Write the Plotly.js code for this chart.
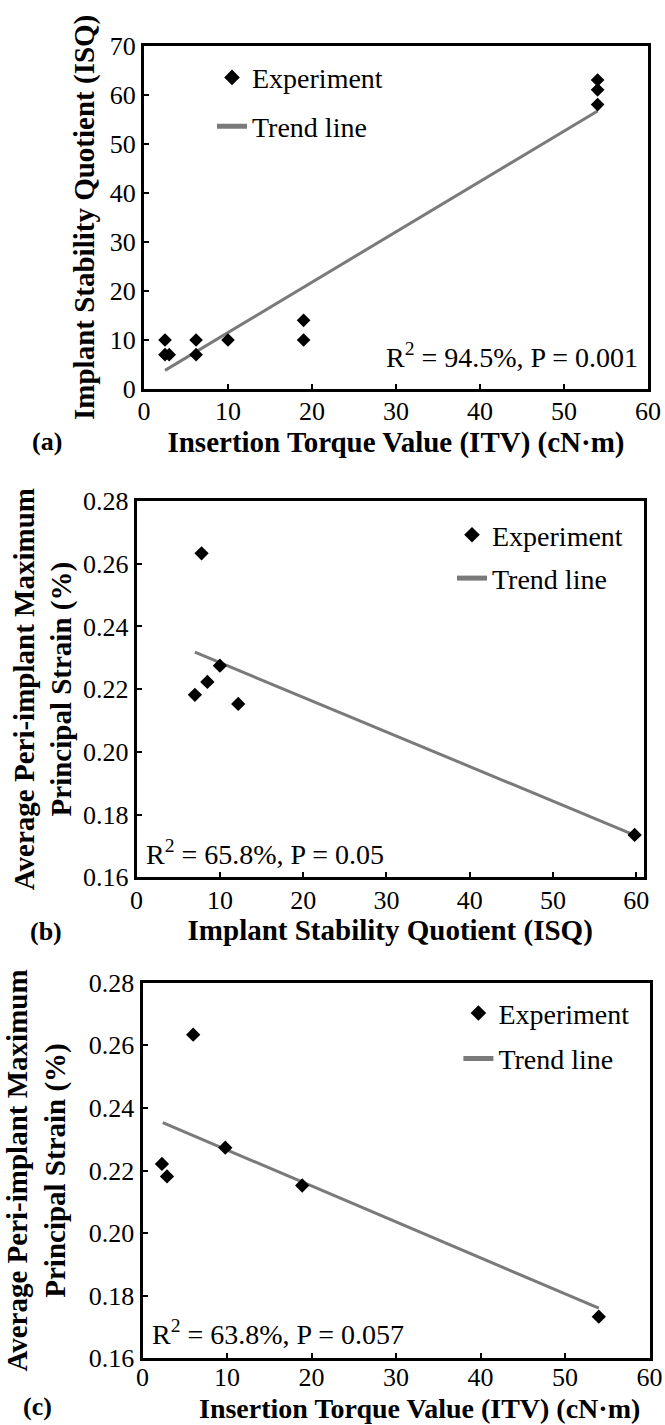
<!DOCTYPE html>
<html>
<head>
<meta charset="utf-8">
<script src="https://cdn.plot.ly/plotly-3.0.1.min.js"></script>
<style>
html,body{margin:0;padding:0;background:#ffffff;}
#chart{width:665px;height:1425px;}
</style>
</head>
<body>
<div id="chart"></div>
<script>
// ---------- data ----------
// Panel (a): ISQ vs ITV
const itvA   = [2.5, 2.5, 3.0, 6.2, 6.2, 10.0, 19.0, 19.0, 54.0, 54.0, 54.0];
const isqA   = [10, 7, 7, 10, 7, 10, 14, 10, 63, 61, 58];
const trendAx = [2.5, 54.0];
const trendAy = [3.8, 56.7];
const statsA = 'R<sup>2</sup> = 94.5%, P = 0.001';

// Panel (b): strain vs ISQ
const isqB    = [7.0, 7.8, 8.5, 10.0, 12.2, 59.8];
const strainB = [0.2182, 0.2633, 0.2223, 0.2275, 0.2153, 0.1735];
const trendBx = [7.0, 60.0];
const trendBy = [0.2318, 0.1732];
const statsB = 'R<sup>2</sup> = 65.8%, P = 0.05';

// Panel (c): strain vs ITV
const itvC    = [2.3, 2.9, 6.0, 9.8, 18.9, 54.0];
const strainC = [0.2221, 0.2181, 0.2634, 0.2273, 0.2152, 0.1733];
const trendCx = [2.4, 54.0];
const trendCy = [0.2353, 0.1760];
const statsC = 'R<sup>2</sup> = 63.8%, P = 0.057';

const itvTicks    = [0, 10, 20, 30, 40, 50, 60];
const isqTicks    = [0, 10, 20, 30, 40, 50, 60, 70];
const strainTicks = [0.16, 0.18, 0.20, 0.22, 0.24, 0.26, 0.28];

const seriesNames = ['Experiment', 'Trend line'];
const xTitleITV = 'Insertion Torque Value (ITV) (cN·m)';
const xTitleISQ = 'Implant Stability Quotient (ISQ)';
const yTitleISQ = 'Implant Stability Quotient (ISQ)';
const yTitleStrain = 'Average Peri-implant Maximum<br>Principal Strain (%)';
const panelLabels = ['(a)', '(b)', '(c)'];

// ---------- layout helpers ----------
const W = 665, H = 1425;
const FONT = '"Liberation Serif", "Times New Roman", Times, serif';
const px = v => v / W;
const py = v => 1 - v / H;
const TREND_COLOR = '#7a7a7a';

function axisBase(extra) {
  return Object.assign({
    showline: true, linecolor: '#000', linewidth: 3, mirror: true,
    ticks: 'inside', ticklen: 5, tickwidth: 2, tickcolor: '#000',
    showgrid: false, zeroline: false, automargin: false,
    tickfont: {family: FONT, size: 26, color: '#000'},
    fixedrange: true
  }, extra);
}
function titleFont() { return {family: FONT, size: 29, color: '#000', weight: 'bold'}; }

const traces = [
  // (a)
  {x: trendAx, y: trendAy, xaxis: 'x', yaxis: 'y', mode: 'lines', name: seriesNames[1],
   line: {color: TREND_COLOR, width: 3}, legend: 'legend', legendgroup: 'a2', legendrank: 2},
  {x: itvA, y: isqA, xaxis: 'x', yaxis: 'y', mode: 'markers', name: seriesNames[0],
   marker: {symbol: 'diamond', size: 10.5, color: '#000'}, legend: 'legend', legendgroup: 'a1', legendrank: 1},
  // (b)
  {x: trendBx, y: trendBy, xaxis: 'x2', yaxis: 'y2', mode: 'lines', name: seriesNames[1],
   line: {color: TREND_COLOR, width: 3}, legend: 'legend2', legendgroup: 'b2', legendrank: 2},
  {x: isqB, y: strainB, xaxis: 'x2', yaxis: 'y2', mode: 'markers', name: seriesNames[0],
   marker: {symbol: 'diamond', size: 11, color: '#000'}, legend: 'legend2', legendgroup: 'b1', legendrank: 1},
  // (c)
  {x: trendCx, y: trendCy, xaxis: 'x3', yaxis: 'y3', mode: 'lines', name: seriesNames[1],
   line: {color: TREND_COLOR, width: 3}, legend: 'legend3', legendgroup: 'c2', legendrank: 2},
  {x: itvC, y: strainC, xaxis: 'x3', yaxis: 'y3', mode: 'markers', name: seriesNames[0],
   marker: {symbol: 'diamond', size: 11, color: '#000'}, legend: 'legend3', legendgroup: 'c1', legendrank: 1}
];

function legendCfg(left, top, gap) {
  return {
    x: px(left), y: py(top), xanchor: 'left', yanchor: 'top',
    font: {family: FONT, size: 28, color: '#000'},
    bgcolor: 'rgba(0,0,0,0)', borderwidth: 0,
    itemsizing: 'constant', traceorder: 'grouped', tracegroupgap: gap
  };
}

function textAnn(text, x, y, xanchor, size, bold) {
  return {
    xref: 'paper', yref: 'paper', x: px(x), y: py(y),
    xanchor: xanchor, yanchor: 'middle', showarrow: false, text: text,
    font: {family: FONT, size: size, color: '#000', weight: bold ? 'bold' : 'normal'}
  };
}

const layout = {
  width: W, height: H,
  margin: {l: 0, r: 0, t: 0, b: 0},
  paper_bgcolor: '#fff', plot_bgcolor: '#fff',
  showlegend: true,
  font: {family: FONT, color: '#000'},

  xaxis: axisBase({domain: [px(144), px(648)], range: [0, 60], tickvals: itvTicks, anchor: 'y',
    ticklabelstandoff: -3,
    title: {text: xTitleITV, font: titleFont(), standoff: 0}}),
  yaxis: axisBase({domain: [py(389), py(45.7)], range: [0, 70], tickvals: isqTicks, anchor: 'x',
    title: {text: yTitleISQ, font: titleFont(), standoff: 7}}),

  xaxis2: axisBase({domain: [px(136.6), px(643.8)], range: [0, 60.9], tickvals: itvTicks, anchor: 'y2',
    ticklabelstandoff: -3,
    title: {text: xTitleISQ, font: titleFont(), standoff: 2}}),
  yaxis2: axisBase({domain: [py(877.3), py(501)], range: [0.16, 0.28], tickvals: strainTicks,
    tickformat: '.2f', anchor: 'x2',
    title: {text: yTitleStrain, font: titleFont(), standoff: 3}}),

  xaxis3: axisBase({domain: [px(142.5), px(649.5)], range: [0, 60], tickvals: itvTicks, anchor: 'y3',
    ticklabelstandoff: -7}),
  yaxis3: axisBase({domain: [py(1358.3), py(982.7)], range: [0.16, 0.28], tickvals: strainTicks,
    tickformat: '.2f', anchor: 'x3',
    title: {text: yTitleStrain, font: titleFont(), standoff: 15}}),

  legend:  legendCfg(212, 52.7, 9.5),
  legend2: legendCfg(452, 510, 4),
  legend3: legendCfg(458.4, 988.3, 6),

  annotations: [
    textAnn(statsA, 640, 355, 'right', 28, false),
    textAnn(statsB, 144, 852.5, 'left', 28, false),
    textAnn(statsC, 150, 1332.5, 'left', 28, false),
    textAnn(panelLabels[0], 47, 441, 'center', 26, true),
    textAnn(panelLabels[1], 46, 931, 'center', 26, true),
    textAnn(panelLabels[2], 37.5, 1406, 'center', 26, true),
    // x-axis title of panel (c): in the reference it sits right of the axis centre, at the page bottom
    {xref: 'paper', yref: 'paper', x: px(419), y: 0, xanchor: 'center', yanchor: 'bottom',
     borderpad: 0, showarrow: false, text: xTitleITV,
     font: {family: FONT, size: 28, color: '#000', weight: 'bold'}}
  ]
};

Plotly.newPlot('chart', traces, layout, {displayModeBar: false, staticPlot: true});
</script>
</body>
</html>
